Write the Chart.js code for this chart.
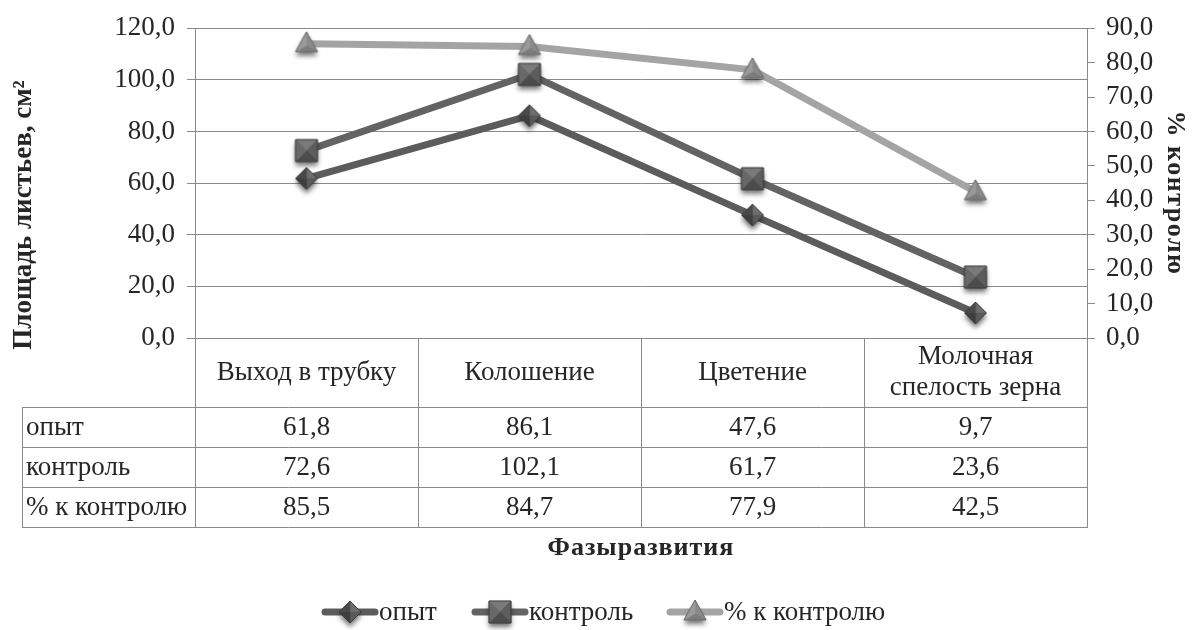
<!DOCTYPE html>
<html><head><meta charset="utf-8">
<script src="https://cdn.jsdelivr.net/npm/chart.js@4"></script>
<style>html,body{margin:0;padding:0;background:#fff}#wrap{width:1192px;height:630px}</style>
</head><body><div id="wrap"><canvas id="c" width="1192" height="630"></canvas></div>
<script>
// ---- data ----
const categories = [["Выход в трубку"], ["Колошение"], ["Цветение"], ["Молочная", "спелость зерна"]];
const seriesNames = ["опыт", "контроль", "% к контролю"];
const opyt = [61.8, 86.1, 47.6, 9.7];
const kontrol = [72.6, 102.1, 61.7, 23.6];
const pctControl = [85.5, 84.7, 77.9, 42.5];
const leftAxis = { min: 0, max: 120, step: 20 };
const rightAxis = { min: 0, max: 90, step: 10 };
const leftTitle = "Площадь листьев, см²";
const rightTitle = "% контролю";
const xTitle = "Фазыразвития";

const FONT = "'Liberation Serif', 'Times New Roman', serif";
const TXT = "#262626";
const GRID = "#8a8a8a";
const fmt = v => Number(v).toFixed(1).replace('.', ',');

const colors = ["#5c5c5c", "#636363", "#a4a4a4"];

// ---- shaded marker images ----
function makeMarker(kind) {
  const S = 40, c = S / 2;
  const cv = document.createElement('canvas');
  cv.width = S; cv.height = S;
  const g = cv.getContext('2d');
  let pts;
  if (kind === 'diamond') {
    const r = 11;
    pts = [[c, c - r], [c + r, c], [c, c + r], [c - r, c]];
  } else if (kind === 'square') {
    const r = 11;
    pts = [[c - r, c - r], [c + r, c - r], [c + r, c + r], [c - r, c + r]];
  } else {
    const w = 11, h = 20;
    pts = [[c, c - h * 0.6], [c + w, c + h * 0.4], [c - w, c + h * 0.4]];
  }
  g.save();
  g.shadowColor = 'rgba(0,0,0,0.55)';
  g.shadowBlur = 5;
  g.shadowOffsetY = 4;
  g.beginPath();
  pts.forEach((p, i) => i ? g.lineTo(p[0], p[1]) : g.moveTo(p[0], p[1]));
  g.closePath();
  g.fillStyle = '#555';
  g.fill();
  g.restore();
  let facetCols;
  if (kind === 'diamond') facetCols = ['#6e6e6e', '#5a5a5a', '#3e3e3e', '#4a4a4a'];
  else if (kind === 'square') facetCols = ['#7a7a7a', '#5d5d5d', '#4c4c4c', '#686868'];
  else facetCols = ['#8a8a8a', '#7c7c7c', '#9a9a9a'];
  const ccx = pts.reduce((a, p) => a + p[0], 0) / pts.length;
  const ccy = kind === 'tri' ? c + 2 : pts.reduce((a, p) => a + p[1], 0) / pts.length;
  for (let i = 0; i < pts.length; i++) {
    const a = pts[i], b = pts[(i + 1) % pts.length];
    g.beginPath();
    g.moveTo(ccx, ccy); g.lineTo(a[0], a[1]); g.lineTo(b[0], b[1]); g.closePath();
    g.fillStyle = facetCols[i];
    g.fill();
    g.strokeStyle = facetCols[i];
    g.lineWidth = 0.5;
    g.stroke();
  }
  g.beginPath();
  pts.forEach((p, i) => i ? g.lineTo(p[0], p[1]) : g.moveTo(p[0], p[1]));
  g.closePath();
  g.strokeStyle = kind === 'tri' ? '#6e6e6e' : '#3c3c3c';
  g.lineWidth = 1;
  g.stroke();
  return cv;
}
const markerImgs = [makeMarker('diamond'), makeMarker('square'), makeMarker('tri')];

const tableData = [opyt, kontrol, pctControl];

const tablePlugin = {
  id: 'tablePlugin',
  afterDraw(chart) {
    const ctx = chart.ctx;
    const x = chart.scales.x;
    const ca = chart.chartArea;
    const n = categories.length;
    const cw = (ca.right - ca.left) / n;
    const top = ca.bottom;
    const headerBottom = top + 69;
    const rowH = 40;
    const tableBottom = headerBottom + rowH * 3;
    const tableLeft = 22;
    ctx.save();
    ctx.strokeStyle = GRID;
    ctx.lineWidth = 1;
    ctx.beginPath();
    for (let i = 0; i <= n; i++) {
      const vx = Math.round(ca.left + i * cw) + 0.5;
      ctx.moveTo(vx, top); ctx.lineTo(vx, tableBottom);
    }
    ctx.moveTo(tableLeft + 0.5, headerBottom); ctx.lineTo(tableLeft + 0.5, tableBottom);
    for (let r = 0; r <= 3; r++) {
      const hy = Math.round(headerBottom + r * rowH) + 0.5;
      ctx.moveTo(tableLeft, hy); ctx.lineTo(ca.right + 1, hy);
    }
    ctx.stroke();

    ctx.fillStyle = TXT;
    ctx.font = "27px " + FONT;
    ctx.textAlign = 'center';
    ctx.textBaseline = 'middle';
    for (let i = 0; i < n; i++) {
      const cx = x.getPixelForTick(i);
      const lines = categories[i];
      const lh = 31;
      const cy = (top + headerBottom) / 2;
      lines.forEach((t, k) => {
        ctx.fillText(t, cx, cy + (k - (lines.length - 1) / 2) * lh);
      });
      tableData.forEach((arr, r) => {
        ctx.fillText(fmt(arr[i]), cx, headerBottom + r * rowH + rowH / 2 + 1);
      });
    }
    ctx.textAlign = 'left';
    seriesNames.forEach((s, r) => {
      ctx.fillText(s, tableLeft + 4, headerBottom + r * rowH + rowH / 2 + 1);
    });

    // axis titles
    ctx.font = "bold 27px " + FONT;
    ctx.textAlign = 'center';
    ctx.save();
    ctx.translate(24, 215);
    ctx.rotate(-Math.PI / 2);
    ctx.fillText(leftTitle, 0, 0);
    ctx.restore();
    ctx.save();
    ctx.font = "bold 26px " + FONT;
    ctx.translate(1175, 193);
    ctx.rotate(Math.PI / 2);
    try { ctx.letterSpacing = "1.5px"; } catch (e) {}
    ctx.fillText(rightTitle, 0, 0);
    ctx.restore();
    ctx.save();
    ctx.font = "bold 26px " + FONT;
    try { ctx.letterSpacing = "1px"; } catch (e) {}
    ctx.fillText(xTitle, (ca.left + ca.right) / 2, 548);
    ctx.restore();

    // legend
    const starts = [322, 472, 667];
    const ly = 612;
    ctx.font = "27px " + FONT;
    ctx.textAlign = 'left';
    chart.data.datasets.forEach((ds, i) => {
      const lx = starts[i];
      ctx.strokeStyle = ds.borderColor;
      ctx.lineWidth = 7;
      ctx.lineCap = 'round';
      ctx.beginPath(); ctx.moveTo(lx + 3, ly); ctx.lineTo(lx + 53, ly); ctx.stroke();
      const img = ds.pointStyle;
      ctx.drawImage(img, lx + 28 - img.width / 2, ly - img.height / 2);
      ctx.fillStyle = TXT;
      ctx.fillText(ds.label, lx + 57, ly + 1);
    });
    ctx.restore();
  }
};

const datasets = [opyt, kontrol, pctControl].map((d, i) => ({
  label: seriesNames[i],
  data: d,
  yAxisID: i === 2 ? 'y1' : 'y',
  borderColor: colors[i],
  borderWidth: 7,
  pointStyle: markerImgs[i],
  pointRadius: 12,
  pointHoverRadius: 12,
  tension: 0,
  order: 3 - i
}));

new Chart(document.getElementById('c'), {
  type: 'line',
  data: { labels: categories.map(c => c.join(' ')), datasets },
  options: {
    responsive: false,
    devicePixelRatio: 1,
    animation: false,
    events: [],
    layout: { padding: { top: 27, left: 0, right: 0, bottom: 0 } },
    plugins: { legend: { display: false }, tooltip: { enabled: false } },
    scales: {
      x: {
        type: 'category',
        offset: true,
        grid: { display: false },
        border: { display: false },
        ticks: { display: false },
        afterFit(s) { s.height = 630 - 338; }
      },
      y: {
        position: 'left',
        min: leftAxis.min, max: leftAxis.max,
        ticks: { stepSize: leftAxis.step, autoSkip: false, callback: fmt, color: TXT, font: { family: FONT, size: 27 }, padding: 12 },
        grid: { color: GRID, tickLength: 8, lineWidth: 1 },
        border: { display: true, color: GRID },
        afterFit(s) { s.width = 195; }
      },
      y1: {
        position: 'right',
        min: rightAxis.min, max: rightAxis.max,
        ticks: { stepSize: rightAxis.step, autoSkip: false, callback: fmt, color: TXT, font: { family: FONT, size: 27 }, padding: 11 },
        grid: { drawOnChartArea: false, color: GRID, tickLength: 8 },
        border: { display: true, color: GRID },
        afterFit(s) { s.width = 1192 - 1087; }
      }
    }
  },
  plugins: [tablePlugin]
});
</script>
</body></html>
